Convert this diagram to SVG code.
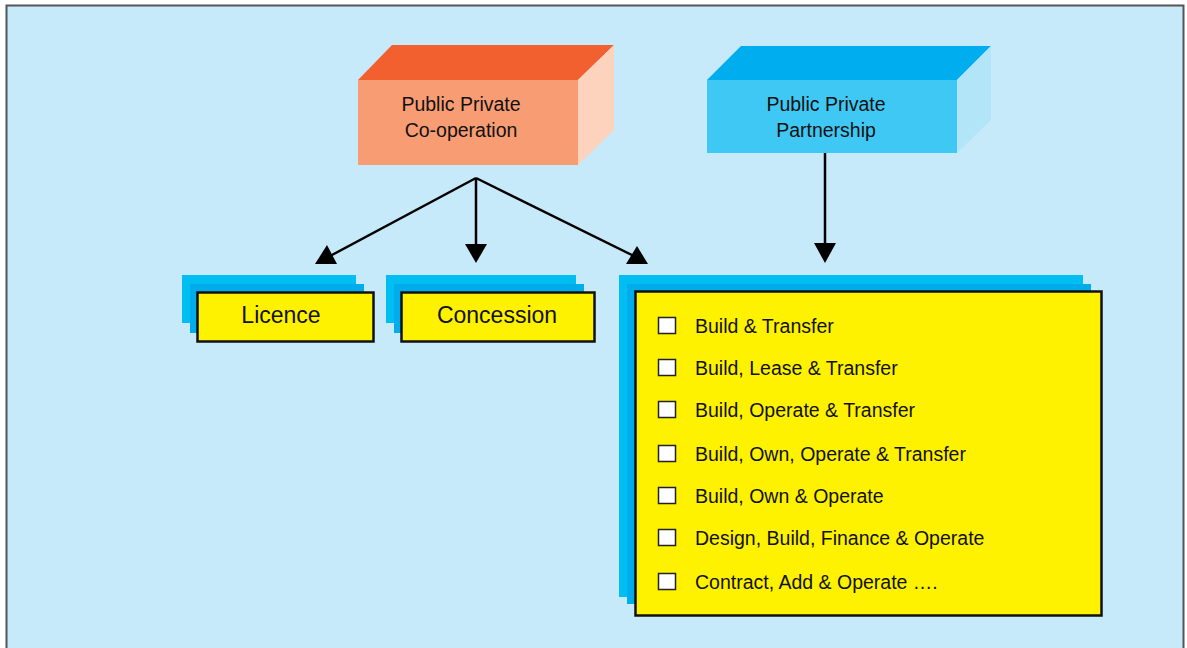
<svg xmlns="http://www.w3.org/2000/svg" width="1187" height="648" viewBox="0 0 1187 648">
<style>
text{font-family:"Liberation Sans",Arial,sans-serif;fill:#111;}
.hdr{font-size:19.5px;text-anchor:middle;}
.lbl{font-size:23px;text-anchor:middle;}
.item{font-size:19.5px;}
.b1{fill:#00BDF2;}
.b2{fill:#00ACEC;}
.yel{fill:#FFF200;stroke:#111;stroke-width:2.5;}
.cb{fill:#fff;stroke:#222;stroke-width:1.5;}
.ln{stroke:#000;stroke-width:2.5;fill:none;}
.ah{fill:#000;}
</style>
<rect x="0" y="0" width="1187" height="648" fill="#fff"/>
<rect x="6.5" y="5.5" width="1177" height="660" fill="#C6EAF9" stroke="#555" stroke-width="2"/>

<g id="ppc">
<polygon points="358,80 392,45 614,45 578,80" fill="#F26030"/>
<polygon points="578,80 614,45 614,130 578,165" fill="#FDD3BD"/>
<rect x="358" y="80" width="220" height="85" fill="#F89C74"/>
<text class="hdr" x="461" y="111">Public Private</text>
<text class="hdr" x="461" y="137">Co-operation</text>
</g>

<g id="ppp">
<polygon points="707,80 741,46 991,46 957,80" fill="#00AEEF"/>
<polygon points="957,80 991,46 991,120 957,153" fill="#B3E5F8"/>
<rect x="707" y="80" width="250" height="73" fill="#40C8F4"/>
<text class="hdr" x="826" y="111">Public Private</text>
<text class="hdr" x="826" y="137">Partnership</text>
</g>

<g id="connectors">
<line class="ln" x1="476" y1="178" x2="330" y2="256"/>
<polygon class="ah" points="315,264 337,264 327,245"/>
<line class="ln" x1="476" y1="178" x2="476" y2="246"/>
<polygon class="ah" points="465,244 487,244 476,263"/>
<line class="ln" x1="476" y1="178" x2="634" y2="256"/>
<polygon class="ah" points="626,264 648,264 637,246"/>
<line class="ln" x1="825" y1="153" x2="825" y2="246"/>
<polygon class="ah" points="814,243 836,243 825,263"/>
</g>

<g id="licence">
<rect class="b1" x="182" y="275" width="174" height="48"/>
<rect class="b2" x="190" y="284" width="174" height="49"/>
<rect class="yel" x="197.5" y="292.5" width="176" height="49"/>
<text class="lbl" x="281" y="323">Licence</text>
</g>

<g id="concession">
<rect class="b1" x="386" y="275" width="190" height="48"/>
<rect class="b2" x="394" y="284" width="190" height="49"/>
<rect class="yel" x="401.5" y="292.5" width="193" height="49"/>
<text class="lbl" x="497" y="323">Concession</text>
</g>

<g id="models">
<rect class="b1" x="619" y="275" width="464" height="322"/>
<rect class="b2" x="627" y="284" width="464" height="320"/>
<rect class="yel" x="635.5" y="291.5" width="466" height="324"/>
<rect class="cb" x="658.5" y="317.5" width="17" height="16"/>
<text class="item" x="695" y="333">Build &amp; Transfer</text>
<rect class="cb" x="658.5" y="359.5" width="17" height="16"/>
<text class="item" x="695" y="375">Build, Lease &amp; Transfer</text>
<rect class="cb" x="658.5" y="401.5" width="17" height="16"/>
<text class="item" x="695" y="417">Build, Operate &amp; Transfer</text>
<rect class="cb" x="658.5" y="445.5" width="17" height="16"/>
<text class="item" x="695" y="461">Build, Own, Operate &amp; Transfer</text>
<rect class="cb" x="658.5" y="487.5" width="17" height="16"/>
<text class="item" x="695" y="503">Build, Own &amp; Operate</text>
<rect class="cb" x="658.5" y="529.5" width="17" height="16"/>
<text class="item" x="695" y="545">Design, Build, Finance &amp; Operate</text>
<rect class="cb" x="658.5" y="573.5" width="17" height="16"/>
<text class="item" x="695" y="589">Contract, Add &amp; Operate ….</text>
</g>
</svg>
